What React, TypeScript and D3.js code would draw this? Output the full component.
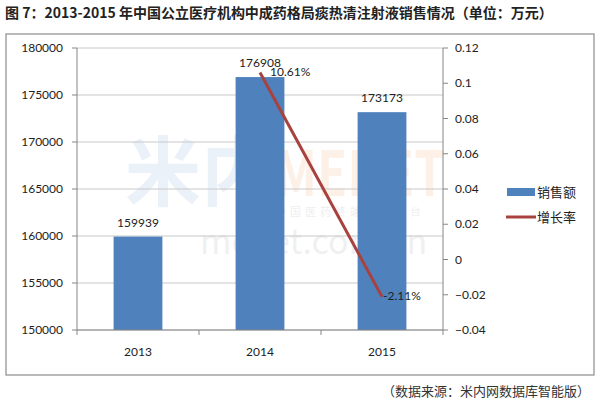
import React from "react";
import * as d3 from "d3";

const years = ["2013", "2014", "2015"];
const sales = [159939, 176908, 173173];
const growth = [null, 0.1061, -0.0211];
const growthLabels = ["", "10.61%", "-2.11%"];
const leftTicks = [150000, 155000, 160000, 165000, 170000, 175000, 180000];
const rightTicks = [-0.04, -0.02, 0, 0.02, 0.04, 0.06, 0.08, 0.1, 0.12];
const legendNames = ["销售额", "增长率"];
const title = "图 7：2013-2015 年中国公立医疗机构中成药格局痰热清注射液销售情况（单位：万元）";
const source = "（数据来源：米内网数据库智能版）";

export default function App() {
  const W = 604, H = 405;
  const plotL = 77, plotR = 443, plotT = 48, plotB = 330;
  const x = d3.scaleBand().domain(years).range([plotL, plotR]).paddingInner(0.6).paddingOuter(0.3);
  const xc = d3.scaleBand().domain(years).range([plotL, plotR]);
  const yL = d3.scaleLinear().domain([150000, 180000]).range([plotB, plotT]);
  const yR = d3.scaleLinear().domain([-0.04, 0.12]).range([plotB, plotT]);
  const font = "Lato, 'Noto Sans CJK SC', sans-serif";
  const lineData = years
    .map((y, i) => ({ y, v: growth[i] }))
    .filter((d) => d.v !== null) as { y: string; v: number }[];
  const line = d3
    .line<{ y: string; v: number }>()
    .x((d) => (xc(d.y) as number) + xc.bandwidth() / 2)
    .y((d) => yR(d.v));
  const blue = "#4F81BD";
  const red = "#A8423F";
  return (
    <svg width={W} height={H} style={{ position: "absolute", left: 0, top: 0, background: "#fff" }}>
      <rect width={W} height={H} fill="#fff" />
      <text x={5} y={18} fontSize={14} fontWeight="bold" fill="#222" fontFamily="'Noto Sans CJK SC', sans-serif">
        {title}
      </text>
      <rect x={6} y={34} width={588} height={341} fill="#fff" stroke="#8c8c8c" strokeWidth={1.2} />
      {/* watermark */}
      <g opacity={0.12} fontFamily="'Noto Sans CJK SC', sans-serif">
        <text x={125} y={200} fontSize={76} fontWeight="bold" fill="#5b8fc7">米内</text>
        <text x={275} y={196} fontSize={62} fontWeight="bold" fill="#f08a3c" textLength={170} lengthAdjust="spacingAndGlyphs">MENET</text>
        <text x={275} y={216} fontSize={11} fill="#777" letterSpacing={4}>中国医药终端第一平台</text>
        <text x={200} y={254} fontSize={34} fill="#888">menet.com.cn</text>
      </g>
      {leftTicks.map((t) => (
        <g key={t}>
          <line x1={plotL} x2={plotR} y1={yL(t)} y2={yL(t)} stroke="#c8c8c8" strokeWidth={1} />
          <line x1={plotL - 5} x2={plotL} y1={yL(t)} y2={yL(t)} stroke="#868686" />
          <text x={63} y={yL(t)} dy="0.35em" textAnchor="end" fontSize={12} fill="#222" fontFamily={font}>
            {t}
          </text>
        </g>
      ))}
      {rightTicks.map((t) => (
        <g key={t}>
          <line x1={plotR} x2={plotR + 5} y1={yR(t)} y2={yR(t)} stroke="#868686" />
          <text x={455} y={yR(t)} dy="0.35em" textAnchor="start" fontSize={12} fill="#222" fontFamily={font}>
            {d3.format("")(+t.toFixed(2))}
          </text>
        </g>
      ))}
      {sales.map((v, i) => (
        <g key={years[i]}>
          <rect x={x(years[i])} y={yL(v)} width={x.bandwidth()} height={plotB - yL(v)} fill={blue} />
          <text
            x={(x(years[i]) as number) + x.bandwidth() / 2}
            y={yL(v) - 10}
            textAnchor="middle"
            fontSize={12}
            fill="#222"
            fontFamily={font}
          >
            {v}
          </text>
        </g>
      ))}
      <line x1={plotL} x2={plotL} y1={plotT} y2={plotB} stroke="#868686" />
      <line x1={plotR} x2={plotR} y1={plotT} y2={plotB} stroke="#868686" />
      <line x1={plotL} x2={plotR} y1={plotB} y2={plotB} stroke="#868686" />
      {years.map((y) => (
        <g key={y}>
          <line x1={xc(y)} x2={xc(y)} y1={plotB} y2={plotB + 5} stroke="#868686" />
          <text
            x={(xc(y) as number) + xc.bandwidth() / 2}
            y={356}
            textAnchor="middle"
            fontSize={12}
            fill="#222"
            fontFamily={font}
          >
            {y}
          </text>
        </g>
      ))}
      <line x1={plotR} x2={plotR} y1={plotB} y2={plotB + 5} stroke="#868686" />
      <path d={line(lineData) || ""} fill="none" stroke={red} strokeWidth={3} />
      {lineData.map((d) => {
        const i = years.indexOf(d.y);
        const cx = (xc(d.y) as number) + xc.bandwidth() / 2;
        return (
          <text
            key={d.y}
            x={cx + (i === 1 ? 10 : 1)}
            y={yR(d.v) + (i === 1 ? 4 : 3)}
            fontSize={12}
            fill="#222"
            fontFamily={font}
          >
            {growthLabels[i]}
          </text>
        );
      })}
      <rect x={507} y={188} width={28} height={8} fill={blue} />
      <text x={537} y={192} dy="0.35em" fontSize={13} fill="#222" fontFamily="'Noto Sans CJK SC', sans-serif">
        {legendNames[0]}
      </text>
      <line x1={506} x2={536} y1={217} y2={217} stroke={red} strokeWidth={3} />
      <text x={537} y={217} dy="0.35em" fontSize={13} fill="#222" fontFamily="'Noto Sans CJK SC', sans-serif">
        {legendNames[1]}
      </text>
      <text x={590} y={396} textAnchor="end" fontSize={13} fill="#333" fontFamily="'Noto Sans CJK SC', sans-serif">
        {source}
      </text>
    </svg>
  );
}
